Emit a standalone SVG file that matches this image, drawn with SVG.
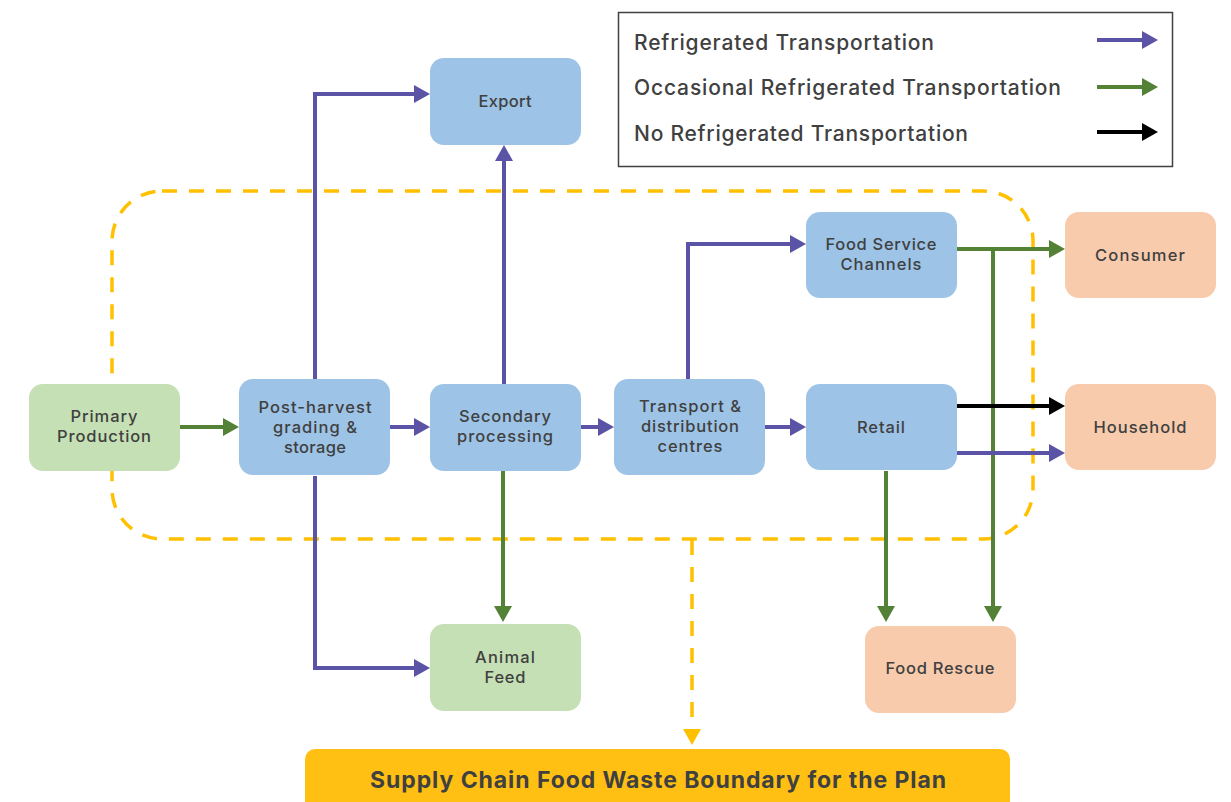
<svg xmlns="http://www.w3.org/2000/svg" width="1231" height="802" viewBox="0 0 1231 802">
<style>
  .lbl{font-family:Inter,"Open Sans","Liberation Sans",sans-serif;font-size:16.5px;font-weight:500;fill:#404040;text-anchor:middle;dominant-baseline:central}
  .leg{font-family:Inter,"Open Sans","Liberation Sans",sans-serif;font-size:21px;font-weight:500;fill:#404040;dominant-baseline:central}
  .bar{font-family:Inter,"Open Sans","Liberation Sans",sans-serif;font-size:23px;font-weight:700;fill:#404040;text-anchor:middle;dominant-baseline:central}
  .blue{fill:#9DC3E6}
  .green{fill:#C5E0B4}
  .peach{fill:#F8CBAD}
  .p{fill:none;stroke:#5B53A6;stroke-width:4;marker-end:url(#mp)}
  .g{fill:none;stroke:#538135;stroke-width:4;marker-end:url(#mg)}
  .k{fill:none;stroke:#000000;stroke-width:4;marker-end:url(#mk)}
</style>
<defs>
  <marker id="mp" markerUnits="userSpaceOnUse" markerWidth="16" markerHeight="18" refX="12" refY="9" orient="auto"><path d="M0,0 L16,9 L0,18 Z" fill="#5B53A6"/></marker>
  <marker id="mg" markerUnits="userSpaceOnUse" markerWidth="16" markerHeight="18" refX="12" refY="9" orient="auto"><path d="M0,0 L16,9 L0,18 Z" fill="#538135"/></marker>
  <marker id="mk" markerUnits="userSpaceOnUse" markerWidth="16" markerHeight="18" refX="12" refY="9" orient="auto"><path d="M0,0 L16,9 L0,18 Z" fill="#000000"/></marker>
  <marker id="my" markerUnits="userSpaceOnUse" markerWidth="16" markerHeight="18" refX="4" refY="9" orient="auto"><path d="M0,0 L16,9 L0,18 Z" fill="#FFC000"/></marker>
</defs>
<rect width="1231" height="802" fill="#FFFFFF"/>

<g id="boundary">
  <rect x="112" y="191" width="921" height="348" rx="50" fill="none" stroke="#FFC000" stroke-width="3.5" stroke-dasharray="15 12"/>
</g>

<g id="legend">
  <rect x="618.5" y="12.5" width="554" height="154" fill="#FFFFFF" stroke="#404040" stroke-width="1.5"/>
  <text class="leg" x="634" y="42" textLength="300" lengthAdjust="spacing">Refrigerated Transportation</text>
  <text class="leg" x="634" y="87" textLength="427" lengthAdjust="spacing">Occasional Refrigerated Transportation</text>
  <text class="leg" x="634" y="133" textLength="334" lengthAdjust="spacing">No Refrigerated Transportation</text>
  <path class="p" d="M1097,40 H1154"/>
  <path class="g" d="M1097,87 H1154"/>
  <path class="k" d="M1097,132 H1154"/>
</g>

<g id="connectors">
  <path class="g" d="M180,427 H235"/>
  <path class="p" d="M390,427 H426"/>
  <path class="p" d="M581,427 H610"/>
  <path class="p" d="M765,427 H802"/>
  <path class="p" d="M315,379 V94 H426"/>
  <path class="p" d="M504,384 V149"/>
  <path class="p" d="M315,476 V668 H426"/>
  <path class="g" d="M503,471 V618"/>
  <path class="p" d="M688,379 V244 H802"/>
  <path class="g" d="M957,249 H1061"/>
  <path class="g" d="M993,249 V618"/>
  <path class="k" d="M957,406 H1061"/>
  <path class="p" d="M957,453 H1061"/>
  <path class="g" d="M886,471 V618"/>
  <path d="M692,540 V733" fill="none" stroke="#FFC000" stroke-width="3.5" stroke-dasharray="15 12" marker-end="url(#my)"/>
</g>

<g id="export">
  <rect class="blue" x="430" y="58" width="151" height="87" rx="14"/>
  <text class="lbl" x="505" y="101" textLength="53">Export</text>
</g>
<g id="primary-production">
  <rect class="green" x="29" y="384" width="151" height="87" rx="14"/>
  <text class="lbl" x="104" y="416" textLength="67">Primary</text>
  <text class="lbl" x="104" y="436" textLength="94">Production</text>
</g>
<g id="post-harvest">
  <rect class="blue" x="239" y="379" width="151" height="96" rx="14"/>
  <text class="lbl" x="315" y="407" textLength="113">Post-harvest</text>
  <text class="lbl" x="315" y="427" textLength="84">grading &amp;</text>
  <text class="lbl" x="315" y="447" textLength="62">storage</text>
</g>
<g id="secondary-processing">
  <rect class="blue" x="430" y="384" width="151" height="87" rx="14"/>
  <text class="lbl" x="505" y="416" textLength="92">Secondary</text>
  <text class="lbl" x="505" y="436" textLength="96">processing</text>
</g>
<g id="transport">
  <rect class="blue" x="614" y="379" width="151" height="96" rx="14"/>
  <text class="lbl" x="690" y="406" textLength="102">Transport &amp;</text>
  <text class="lbl" x="690" y="426" textLength="98">distribution</text>
  <text class="lbl" x="690" y="446" textLength="65">centres</text>
</g>
<g id="food-service">
  <rect class="blue" x="806" y="212" width="151" height="86" rx="14"/>
  <text class="lbl" x="881" y="244" textLength="111">Food Service</text>
  <text class="lbl" x="881" y="264" textLength="81">Channels</text>
</g>
<g id="retail">
  <rect class="blue" x="806" y="384" width="151" height="86" rx="14"/>
  <text class="lbl" x="881" y="427" textLength="48">Retail</text>
</g>
<g id="consumer">
  <rect class="peach" x="1065" y="212" width="151" height="86" rx="14"/>
  <text class="lbl" x="1140" y="255" textLength="90">Consumer</text>
</g>
<g id="household">
  <rect class="peach" x="1065" y="384" width="151" height="86" rx="14"/>
  <text class="lbl" x="1140" y="427" textLength="93">Household</text>
</g>
<g id="animal-feed">
  <rect class="green" x="430" y="624" width="151" height="87" rx="14"/>
  <text class="lbl" x="505" y="657" textLength="60">Animal</text>
  <text class="lbl" x="505" y="677" textLength="41">Feed</text>
</g>
<g id="food-rescue">
  <rect class="peach" x="865" y="626" width="151" height="87" rx="14"/>
  <text class="lbl" x="940" y="668" textLength="109">Food Rescue</text>
</g>
<g id="boundary-label">
  <rect x="305" y="749" width="705" height="70" rx="10" fill="#FFC013"/>
  <text class="bar" x="658" y="780" textLength="576">Supply Chain Food Waste Boundary for the Plan</text>
</g>
</svg>
